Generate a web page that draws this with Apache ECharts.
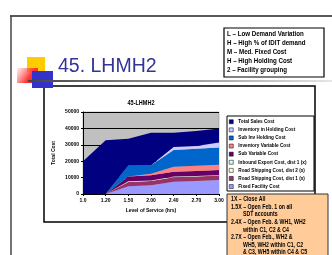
<!doctype html>
<html>
<head>
  <meta charset="UTF-8" />
  <title>45. LHMH2</title>
  <script src="https://cdn.jsdelivr.net/npm/echarts@6/dist/echarts.min.js"></script>
  <style>
    html, body { margin: 0; padding: 0; background: #fff; }
    #main { width: 332px; height: 255px; }
  </style>
</head>
<body>
  <div id="main"></div>
  <script>
    // service levels on the x axis
    const levels = ['1.0', '1.20', '1.50', '2.00', '2.40', '2.70', '3.00'];
    // stacked cost components, bottom to top
    const seriesNames = [
      'Fixed Facility Cost',
      'Road Shipping Cost, dist 1 (x)',
      'Road Shipping Cost, dist 2 (x)',
      'Inbound Export Cost, dist 1 (x)',
      'Sub Variable Cost',
      'Inventory Variable Cost',
      'Sub Inv Holding Cost',
      'Inventory in Holding Cost',
      'Total Sales Cost'
    ];
    const fixedFacility = [0, 0, 4700, 5300, 7500, 8000, 8500];
    const roadDist1 = [0, 0, 2600, 2600, 2700, 2600, 2700];
    const roadDist2 = [0, 0, 200, 200, 200, 200, 200];
    const inboundDist1 = [0, 0, 200, 200, 200, 200, 200];
    const subVariable = [0, 0, 3000, 3100, 3000, 3000, 3000];
    const invVariable = [0, 0, 0, 1000, 3000, 3200, 3300];
    const subInvHolding = [0, 0, 6700, 5100, 10300, 10400, 10500];
    const invHolding = [0, 0, 0, 0, 1700, 1600, 3000];
    const salesCost = [20000, 32700, 16300, 19900, 8800, 9200, 8600];
    const yTicks = [0, 10000, 20000, 30000, 40000, 50000];

    const notes = [
      'L – Low Demand Variation',
      'H – High % of IDIT demand',
      'M – Med. Fixed Cost',
      'H – High Holding Cost',
      '2 – Facility grouping'
    ];
    const scenarios = [
      ['1X – Close All', 0],
      ['1.5X – Open Feb. 1 on all', 0],
      ['SDT accounts', 12],
      ['2.4X – Open Feb. & WH1, WH2', 0],
      ['within C1, C2 & C4', 12],
      ['2.7X – Open Feb., WH2 &', 0],
      ['WH5, WH2 within C1, C2', 12],
      ['& C3, WH5 within C4 & C5', 12]
    ];

    const values = [fixedFacility, roadDist1, roadDist2, inboundDist1, subVariable,
      invVariable, subInvHolding, invHolding, salesCost];
    const colors = ['#9999FF', '#993366', '#FFFFCC', '#CCFFFF', '#660066',
      '#FF8080', '#0066CC', '#CCCCFF', '#000080'];
    const sans = '"Liberation Sans", Arial, sans-serif';

    const chart = echarts.init(document.getElementById('main'), null, { renderer: 'canvas' });

    const graphics = [
      // slide frame
      { type: 'line', shape: { x1: 10, y1: 16, x2: 332, y2: 16 }, style: { stroke: '#222', lineWidth: 1.5 } },
      { type: 'line', shape: { x1: 11, y1: 16, x2: 11, y2: 255 }, style: { stroke: '#444', lineWidth: 1.5 } },
      // title decoration
      { type: 'rect', shape: { x: 27, y: 57, width: 18, height: 15 }, style: { fill: '#FFCC00' } },
      {
        type: 'rect', shape: { x: 17, y: 68, width: 21, height: 15 },
        style: {
          fill: new echarts.graphic.LinearGradient(0, 0, 1, 1, [
            { offset: 0, color: 'rgba(255,120,120,0.15)' },
            { offset: 0.6, color: '#FF3333' },
            { offset: 1, color: '#FF2222' }
          ])
        }
      },
      { type: 'rect', shape: { x: 32, y: 71, width: 21, height: 17 }, style: { fill: '#3333CC' } },
      {
        type: 'rect', shape: { x: 28, y: 80, width: 304, height: 2 },
        style: {
          fill: new echarts.graphic.LinearGradient(0, 0, 1, 0, [
            { offset: 0, color: '#444' },
            { offset: 1, color: '#e6e6e6' }
          ])
        }
      },
      {
        type: 'text', x: 58, y: 57,
        style: { text: '45. LHMH2', font: '19.5px ' + sans, fill: '#333399' }
      },
      // legend of the code letters
      { type: 'rect', shape: { x: 224, y: 28, width: 100, height: 49 }, style: { fill: '#fff', stroke: '#000', lineWidth: 1.2 } },
      // chart frame
      { type: 'rect', z: -10, shape: { x: 44, y: 86, width: 271, height: 136 }, style: { fill: '#fff', stroke: '#000', lineWidth: 1.5 } },
      {
        type: 'text', x: 141, y: 100, scaleX: 0.85,
        style: { text: '45-LHMH2', font: 'bold 6.5px ' + sans, fill: '#000', align: 'center' }
      },
      // series legend frame
      { type: 'rect', z: 1, shape: { x: 227, y: 116, width: 87, height: 75 }, style: { fill: '#fff', stroke: '#000', lineWidth: 1 } },
      // scenario notes box
      { type: 'rect', z: 5, shape: { x: 227, y: 194, width: 101, height: 70 }, style: { fill: '#FFCC99', stroke: '#333', lineWidth: 1 } }
    ];
    notes.forEach((t, i) => {
      graphics.push({
        type: 'text', x: 227, y: 31 + i * 9, scaleX: 0.95,
        style: { text: t, font: 'bold 6.5px ' + sans, fill: '#000' }
      });
    });
    scenarios.forEach((s, i) => {
      graphics.push({
        type: 'text', z: 6, x: 231 + s[1], y: 196 + i * 7.6, scaleX: 0.8,
        style: { text: s[0], font: 'bold 6.5px ' + sans, fill: '#000' }
      });
    });

    chart.setOption({
      animation: false,
      textStyle: { fontFamily: sans },
      grid: {
        left: 83, top: 112, width: 136, height: 82,
        show: true, backgroundColor: '#C0C0C0', borderColor: '#808080', borderWidth: 0.5
      },
      legend: {
        orient: 'vertical', left: 229, top: 119,
        data: seriesNames.slice().reverse(),
        itemWidth: 4, itemHeight: 4, itemGap: 2.6, padding: 0,
        icon: 'rect',
        itemStyle: { borderColor: '#000', borderWidth: 0.5 },
        textStyle: { fontSize: 4.7, fontWeight: 'bold', color: '#000', lineHeight: 5.5 }
      },
      xAxis: {
        type: 'category', data: levels, boundaryGap: false,
        name: 'Level of Service (hrs)', nameLocation: 'middle', nameGap: 14,
        nameTextStyle: { fontSize: 5, fontWeight: 'bold', color: '#000' },
        axisLine: { lineStyle: { color: '#000', width: 1 } },
        axisTick: { show: true, length: 2, lineStyle: { color: '#000' } },
        axisLabel: { fontSize: 5, fontWeight: 'bold', color: '#000', margin: 4 },
        splitLine: { show: false }
      },
      yAxis: {
        type: 'value', min: yTicks[0], max: yTicks[yTicks.length - 1], interval: yTicks[1] - yTicks[0],
        name: 'Total Cost', nameLocation: 'middle', nameGap: 27, nameRotate: 90,
        nameTextStyle: { fontSize: 5, fontWeight: 'bold', color: '#000' },
        axisLine: { show: true, lineStyle: { color: '#000', width: 1 } },
        axisTick: { show: true, length: 2, lineStyle: { color: '#000' } },
        axisLabel: { fontSize: 5, fontWeight: 'bold', color: '#000', margin: 4, formatter: v => String(v) },
        splitLine: { show: true, lineStyle: { color: '#000', width: 1 } }
      },
      series: values.map((v, i) => ({
        type: 'line', name: seriesNames[i], data: v, stack: 'cost',
        symbol: 'none', z: 2,
        color: colors[i],
        lineStyle: { width: 0 },
        areaStyle: { color: colors[i], opacity: 1 }
      })),
      graphic: graphics
    });
  </script>
</body>
</html>
